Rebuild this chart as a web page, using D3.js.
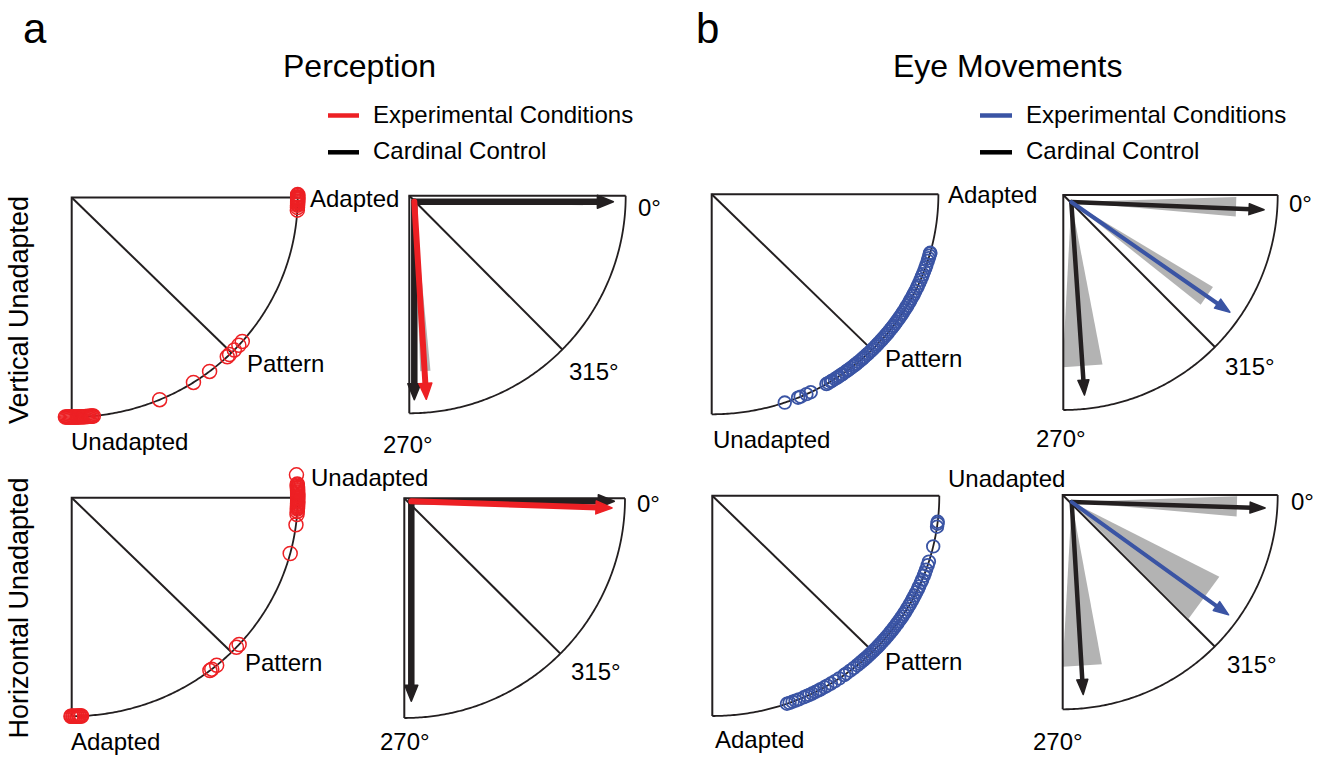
<!DOCTYPE html>
<html><head><meta charset="utf-8">
<script src="https://cdn.jsdelivr.net/npm/d3@7"></script>
<style>
body{margin:0;background:#fff}
text{font-family:"Liberation Sans",Arial,Helvetica,sans-serif;fill:#000}
</style>
</head><body>
<svg id="chart" width="1323" height="758"></svg>
<script>
// ---------- DATA ----------
// Scatter: angular position of each trial (deg) measured from the top-right end (0) to the bottom end (90)
const percVerticalUnadapted = [-0.8, -0.5, -0.2, 0, 0.2, 0.4, 0.6, 0.9, 1.1, 1.4, 1.7, 2.0, 2.6, 3.3,
  41.0, 42.3, 44.0, 45.7, 46.5, 52.4, 57.4, 67.1,
  84.5, 84.8, 85.0, 85.3, 85.6, 85.9, 86.2, 86.5, 86.8, 87.1, 87.4, 87.7, 88.0, 88.3, 88.6, 88.9, 89.2,
  89.5, 89.8, 90.1, 90.4, 90.7, 91.0, 91.3, 91.6];
const percHorizontalUnadapted = [-6.0, -3.6, -3.3, -3.0, -2.7, -2.4, -2.1, -1.8, -1.5, -1.2, -0.9, -0.6, -0.3,
  0, 0.3, 0.6, 0.9, 1.2, 1.5, 1.8, 2.1, 2.4, 2.7, 3.0, 3.6, 4.4,
  7.1, 14.8, 42.2, 43.2, 50.1, 51.7, 52.3,
  87.5, 87.7, 88.0, 88.2, 88.5, 88.7, 89.0, 89.2, 89.5, 89.7, 90.0, 90.2];
const eyeVerticalUnadapted = [71.2, 67.6, 66.9, 65.3, 64.1, 59.6, 59.0, 58.3, 57.9, 57.1, 56.4, 55.9, 55.2, 54.8,
  54.0, 53.3, 52.9, 52.1, 51.4, 50.8, 50.3, 49.6, 48.8, 48.2, 47.7, 46.9, 46.3, 45.6, 45.0, 44.4, 43.7,
  43.1, 42.6, 41.8, 41.2, 40.5, 39.8, 39.3, 38.6, 37.9, 37.2, 36.7, 35.9, 35.3, 34.5, 33.9, 33.2, 32.6,
  31.8, 31.1, 30.4, 29.6, 29.0, 28.3, 27.5, 26.9, 26.1, 25.2, 24.6, 23.7, 22.9, 22.0, 21.3, 20.4, 19.5,
  18.7, 17.6, 16.9, 16.2, 15.6, 15.4];
const eyeHorizontalUnadapted = [70.8, 70.1, 69.3, 68.5, 67.6, 66.2, 65.4, 64.7, 63.9, 63.0, 62.1, 61.5, 60.4,
  59.6, 58.5, 57.3, 56.0, 54.5, 53.8, 52.6, 51.4, 50.3, 49.6, 49.0, 48.3, 47.8, 47.1, 46.5, 45.9, 45.2,
  44.6, 44.0, 43.3, 42.7, 42.1, 41.4, 40.8, 40.1, 39.5, 38.8, 38.2, 37.5, 36.8, 36.1, 35.5, 34.8, 34.0,
  33.3, 32.5, 31.8, 31.0, 30.2, 29.5, 28.6, 27.8, 26.9, 26.0, 25.1, 24.3, 23.2, 22.4, 21.3, 20.5, 19.6,
  18.4, 17.4, 13.3, 8.1, 7.3, 6.8];

// Vectors: mean direction (deg, 0 = right, negative = clockwise) and shaded interval
const vectorSeries = ["Cardinal 0°", "Cardinal 270°", "Experimental"];
const percVertAngle = [0, -90, -86.5];
const percVertLo    = [-1.2, -90.8, -88.0];
const percVertHi    = [0.6, -89.2, -84.5];
const percHorAngle  = [0, -90, -1.9];
const percHorLo     = [-0.6, -90.6, -2.6];
const percHorHi     = [0.6, -89.4, -0.4];
const eyeVertAngle  = [-2.3, -86.1, -34.7];
const eyeVertLo     = [-5.0, -93.0, -38.4];
const eyeVertHi     = [1.7, -79.1, -30.9];
const eyeHorAngle   = [-1.8, -86.6, -35.8];
const eyeHorLo      = [-5.0, -93.1, -45.2];
const eyeHorHi      = [2.0, -79.5, -26.9];

const sectorTicks = ["0°", "315°", "270°"];
const RED = "#ed2024", BLUE = "#3a54a4", BLACK = "#231f20", GRAY = "#b3b3b3";

// ---------- DRAW ----------
const svg = d3.select("#chart");
const rad = d3.scaleLinear().domain([0, 180]).range([0, Math.PI]);
const FONT = 24;

function frame(g, o, r) {
  const xs = d3.scaleLinear().domain([0, 1]).range([o[0], o[0] + r[0]]);
  const ys = d3.scaleLinear().domain([0, 1]).range([o[1], o[1] + r[1]]);
  return {xs, ys};
}
function arcPath(xs, ys) {
  return d3.line().x(a => xs(Math.cos(rad(a)))).y(a => ys(Math.sin(rad(a))))(d3.range(0, 90.01, 0.5));
}
function drawFrame(g, xs, ys, withDiag, withBox) {
  if (withDiag) g.append("line").attr("x1", xs(0)).attr("y1", ys(0))
    .attr("x2", xs(Math.cos(rad(45)))).attr("y2", ys(Math.sin(rad(45))))
    .attr("stroke", BLACK).attr("stroke-width", 2);
  if (withBox) {
    g.append("path").attr("d", `M${xs(1)},${ys(0)}L${xs(0)},${ys(0)}L${xs(0)},${ys(1)}`)
      .attr("fill", "none").attr("stroke", BLACK).attr("stroke-width", 2);
    g.append("path").attr("d", arcPath(xs, ys)).attr("fill", "none").attr("stroke", BLACK).attr("stroke-width", 1.8);
  }
}
function label(txt, x, y, size, anchor) {
  svg.append("text").attr("x", x).attr("y", y).attr("font-size", size)
    .attr("text-anchor", anchor || "start").text(txt);
}

function scatterPlot(o, r, data, color, cr, sw, labels) {
  const g = svg.append("g");
  const {xs, ys} = frame(g, o, r);
  drawFrame(g, xs, ys, true, true);
  g.selectAll("circle").data(data).enter().append("circle")
    .attr("cx", d => xs(Math.cos(rad(d)))).attr("cy", d => ys(Math.sin(rad(d))))
    .attr("r", cr).attr("fill", "none").attr("stroke", color).attr("stroke-width", sw);
  labels.forEach(l => label(l[0], l[1], l[2], FONT));
}

let clipId = 0;
function vectorPlot(o, r, inset, angles, lo, hi, expColor, opts, tickPos) {
  const g = svg.append("g");
  const {xs, ys} = frame(g, o, r);
  const id = "clip" + (clipId++);
  g.append("clipPath").attr("id", id).append("path")
    .attr("d", `M${xs(0)},${ys(0)}L${xs(1)},${ys(0)}` + arcPath(xs, ys).replace(/^M/, "L") + "Z");
  drawFrame(g, xs, ys, true, false);
  const sx = xs(0) + inset[0], sy = ys(0) + inset[1];
  const pt = (a, L) => [sx + (xs(L * Math.cos(rad(a))) - xs(0)), sy + (ys(-L * Math.sin(rad(a))) - ys(0))];
  const wg = g.append("g").attr("clip-path", `url(#${id})`);
  vectorSeries.forEach((s, i) => {
    const p1 = pt(lo[i], opts.wedge), p2 = pt(hi[i], opts.wedge);
    wg.append("path").attr("d", `M${sx},${sy}L${p1[0]},${p1[1]}L${p2[0]},${p2[1]}Z`).attr("fill", GRAY);
  });
  drawFrame(g, xs, ys, false, true);
  vectorSeries.forEach((s, i) => {
    const color = i === 2 ? expColor : BLACK;
    const sw = i === 2 ? opts.swExp : opts.sw;
    const L = opts.len[i];
    const tip = pt(angles[i], L);
    const a = rad(angles[i]);
    const ux = Math.cos(a), uy = -Math.sin(a);
    const hl = opts.head, hw = opts.headW;
    const bx = tip[0] - ux * hl, by = tip[1] - uy * hl;
    g.append("line").attr("x1", sx).attr("y1", sy).attr("x2", bx + ux * 2).attr("y2", by + uy * 2)
      .attr("stroke", color).attr("stroke-width", sw).attr("stroke-linecap", "round");
    g.append("path").attr("d", `M${tip[0]},${tip[1]}L${bx - uy * hw},${by + ux * hw}L${bx + uy * hw},${by - ux * hw}Z`)
      .attr("fill", color).attr("stroke", color).attr("stroke-width", 1.5).attr("stroke-linejoin", "round");
  });
  sectorTicks.forEach((t, i) => label(t, tickPos[i][0], tickPos[i][1], FONT));
}

// panel letters, titles
label("a", 23, 43, 42);
label("b", 696, 43, 42);
label("Perception", 283, 77, 32);
label("Eye Movements", 893, 77, 32);

// legends
function legend(x0, x1, tx, expColor) {
  svg.append("line").attr("x1", x0).attr("x2", x1).attr("y1", 115.5).attr("y2", 115.5).attr("stroke", expColor).attr("stroke-width", 4.5);
  svg.append("line").attr("x1", x0).attr("x2", x1).attr("y1", 152.3).attr("y2", 152.3).attr("stroke", "#000").attr("stroke-width", 4.5);
  label("Experimental Conditions", tx, 122.5, 24);
  label("Cardinal Control", tx, 159, 24);
}
legend(328, 359, 373, RED);
legend(980, 1012, 1026, BLUE);

// row labels
svg.append("text").attr("transform", "translate(28,310) rotate(-90)").attr("text-anchor", "middle").attr("font-size", 27).text("Vertical Unadapted");
svg.append("text").attr("transform", "translate(28,608) rotate(-90)").attr("text-anchor", "middle").attr("font-size", 27).text("Horizontal Unadapted");

// scatter plots
scatterPlot([71.7, 197.5], [226, 219.5], percVerticalUnadapted, RED, 7, 1.5,
  [["Adapted", 310, 207], ["Pattern", 247, 372], ["Unadapted", 71, 450]]);
scatterPlot([71.7, 497.7], [226, 218.5], percHorizontalUnadapted, RED, 7, 1.5,
  [["Unadapted", 311, 486], ["Pattern", 245, 671], ["Adapted", 71, 750]]);
scatterPlot([711.7, 194.3], [226.7, 220], eyeVerticalUnadapted, BLUE, 6.3, 1.8,
  [["Adapted", 948, 203], ["Pattern", 885, 367], ["Unadapted", 713, 448]]);
scatterPlot([712.3, 495.7], [227, 220.3], eyeHorizontalUnadapted, BLUE, 6.3, 1.8,
  [["Unadapted", 948, 487], ["Pattern", 885, 670], ["Adapted", 715, 748]]);

// vector plots
const optA = {wedge: 0.78, len: [0.92, 0.91, 0.91], sw: 6.5, swExp: 6, head: 16, headW: 6.5};
const optB = {wedge: 0.77, len: [0.9, 0.9, 0.9], sw: 4.5, swExp: 4, head: 15, headW: 5.5};
vectorPlot([409.3, 195.7], [216.4, 217.6], [5, 6], percVertAngle, percVertLo, percVertHi, RED, optA,
  [[638, 216], [569, 380], [383, 453]]);
vectorPlot([404.3, 498.3], [220.7, 219.7], [7, 3], percHorAngle, percHorLo, percHorHi, RED, optA,
  [[637, 512], [571, 680], [380, 750]]);
vectorPlot([1063.3, 195], [214.4, 215], [8, 7], eyeVertAngle, eyeVertLo, eyeVertHi, BLUE, optB,
  [[1289, 212], [1225, 375], [1036, 447]]);
vectorPlot([1062.7, 495], [215, 214.3], [9, 7], eyeHorAngle, eyeHorLo, eyeHorHi, BLUE, optB,
  [[1291, 510], [1227, 673], [1033, 750]]);
</script>
</body></html>
